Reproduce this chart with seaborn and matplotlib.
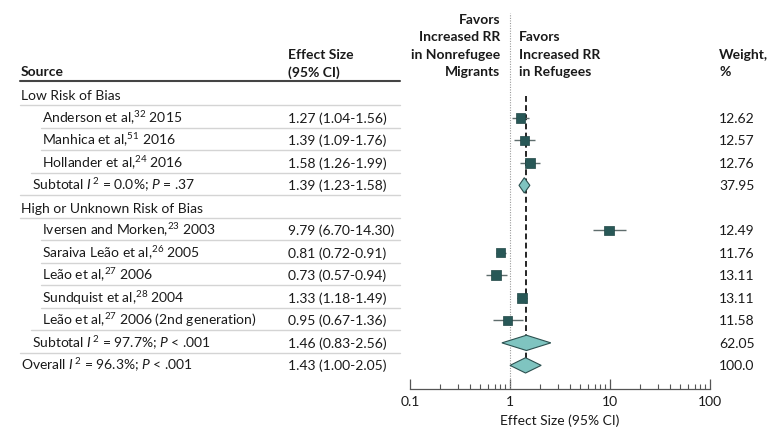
import numpy as np
import pandas as pd
import matplotlib
matplotlib.use("Agg")
import matplotlib.pyplot as plt
import matplotlib.transforms as mtransforms
from matplotlib.ticker import LogLocator, NullFormatter
import seaborn as sns

# rows of the forest plot, top to bottom
row_labels = [
    "Low Risk of Bias",
    "Anderson et al,$^{32}$ 2015",
    "Manhica et al,$^{51}$ 2016",
    "Hollander et al,$^{24}$ 2016",
    "Subtotal $\\mathit{I}^{\\,2}$ = 0.0%; $\\mathit{P}$ = .37",
    "High or Unknown Risk of Bias",
    "Iversen and Morken,$^{23}$ 2003",
    "Saraiva Leão et al,$^{26}$ 2005",
    "Leão et al,$^{27}$ 2006",
    "Sundquist et al,$^{28}$ 2004",
    "Leão et al,$^{27}$ 2006 (2nd generation)",
    "Subtotal $\\mathit{I}^{\\,2}$ = 97.7%; $\\mathit{P}$ < .001",
    "Overall $\\mathit{I}^{\\,2}$ = 96.3%; $\\mathit{P}$ < .001",
]
row_kind = ["group", "study", "study", "study", "subtotal",
            "group", "study", "study", "study", "study", "study", "subtotal", "overall"]
effect = [np.nan, 1.27, 1.39, 1.58, 1.39, np.nan, 9.79, 0.81, 0.73, 1.33, 0.95, 1.46, 1.43]
ci_low = [np.nan, 1.04, 1.09, 1.26, 1.23, np.nan, 6.70, 0.72, 0.57, 1.18, 0.67, 0.83, 1.00]
ci_high = [np.nan, 1.56, 1.76, 1.99, 1.58, np.nan, 14.30, 0.91, 0.94, 1.49, 1.36, 2.56, 2.05]
weights = [np.nan, 12.62, 12.57, 12.76, 37.95, np.nan, 12.49, 11.76, 13.11, 13.11, 11.58, 62.05, 100.0]
weight_labels = ["", "12.62", "12.57", "12.76", "37.95", "", "12.49", "11.76",
                 "13.11", "13.11", "11.58", "62.05", "100.0"]

x_ticks = [0.1, 1, 10, 100]
x_ticklabels = ["0.1", "1", "10", "100"]

df = pd.DataFrame({"label": row_labels, "kind": row_kind, "es": effect,
                   "lo": ci_low, "hi": ci_high, "weight": weights})
df["row"] = np.arange(len(df))
studies = df[df.kind == "study"]
pooled = df[df.kind.isin(["subtotal", "overall"])]

SQUARE = "#285857"
DIAMOND = "#7fc4c0"
CI_COLOR = "#5f6d6d"
TEXT = "#1a1a1a"

sns.set_style("white")
plt.rcParams["font.family"] = ["Lato", "DejaVu Sans"]
plt.rcParams["mathtext.fontset"] = "custom"
plt.rcParams["mathtext.rm"] = "Lato"
plt.rcParams["mathtext.it"] = "Lato:italic"
plt.rcParams["mathtext.bf"] = "Lato:bold"
plt.rcParams["mathtext.default"] = "regular"

W, H = 780, 438
fig = plt.figure(figsize=(7.8, 4.38), dpi=100)
ax = fig.add_axes([410 / W, 1 - 389 / H, 300 / W, (389 - 13) / H])
ax.set_xscale("log")

# CI whiskers and study squares
ax.hlines(studies.row, studies.lo, studies.hi, color=CI_COLOR, lw=1, zorder=3)
sns.scatterplot(data=studies, x="es", y="row", size="weight", sizes=(40, 52),
                marker="s", color=SQUARE, edgecolor="#1f4645", linewidth=0.5,
                legend=False, ax=ax, zorder=4)

# pooled diamonds
dh = 0.34
for _, r in pooled.iterrows():
    ax.fill([r.lo, r.es, r.hi, r.es], [r.row, r.row - dh, r.row, r.row + dh],
            facecolor=DIAMOND, edgecolor="#2c5150", lw=0.8, zorder=4)

overall = df[df.kind == "overall"].iloc[0]
ax.vlines(overall.es, 0.05, overall.row - dh, colors="black",
          linestyles=(0, (3.5, 2)), lw=1.2, zorder=2)
ax.axvline(1, color="#9a9a9a", ls=(0, (1, 1.3)), lw=0.8, zorder=1)

ax.set_xlim(0.1, 100)
ax.set_ylim(13.05, -3.66)
ax.set_yticks([])
for s in ["left", "top", "right"]:
    ax.spines[s].set_visible(False)
ax.spines["bottom"].set_color("#555555")
ax.spines["bottom"].set_linewidth(0.9)
ax.set_xticks(x_ticks)
ax.set_xticklabels(x_ticklabels)
ax.xaxis.set_minor_locator(LogLocator(base=10, subs=np.arange(2, 10)))
ax.xaxis.set_minor_formatter(NullFormatter())
ax.tick_params(axis="x", which="major", bottom=True, direction="in", length=7, width=0.9,
               color="#555555", pad=5, labelsize=10, labelcolor=TEXT)
ax.tick_params(axis="x", which="minor", bottom=True, direction="in", length=3.5, width=0.8,
               color="#555555")
ax.set_xlabel("Effect Size (95% CI)", fontsize=10, color=TEXT, labelpad=5)
ax.set_ylabel("")

trans = mtransforms.blended_transform_factory(fig.transFigure, ax.transData)
indent = {"group": 21, "study": 42, "subtotal": 32, "overall": 21}
fs = 10

# table text
for _, r in df.iterrows():
    y = r.row + 0.22
    ax.text(indent[r.kind] / W, y, r.label, transform=trans, fontsize=fs,
            color=TEXT, va="baseline", ha="left", clip_on=False)
    if not np.isnan(r.es):
        ax.text(288 / W, y, f"{r.es:.2f} ({r.lo:.2f}-{r.hi:.2f})", transform=trans,
                fontsize=fs, color=TEXT, va="baseline", ha="left", clip_on=False)
    if weight_labels[r.row]:
        ax.text(719 / W, y, weight_labels[r.row], transform=trans, fontsize=fs,
                color=TEXT, va="baseline", ha="left", clip_on=False)

# row separators
for i in range(len(df) - 1):
    x0 = min(indent[row_kind[i]], indent[row_kind[i + 1]]) - 1
    ax.plot([x0 / W, 400 / W], [i + 0.45, i + 0.45], transform=trans,
            color="#d4d4d4", lw=1, clip_on=False)
ax.plot([20 / W, 400 / W], [-0.66, -0.66], transform=trans,
        color="#444444", lw=1.5, clip_on=False)

# column headers
headers = [
    (21, "left", ["Source"]),
    (288, "left", ["Effect Size", "(95% CI)"]),
    (500, "right", ["Favors", "Increased RR", "in Nonrefugee", "Migrants"]),
    (519, "left", ["Favors", "Increased RR", "in Refugees"]),
    (719, "left", ["Weight,", "%"]),
]
base = -0.84
for x, ha, lines in headers:
    for k, line in enumerate(reversed(lines)):
        ax.text(x / W, base - k * 0.78, line, transform=trans, fontsize=fs,
                fontweight="bold", color=TEXT, va="baseline", ha=ha, clip_on=False)

fig.savefig("out.png", dpi=100)
